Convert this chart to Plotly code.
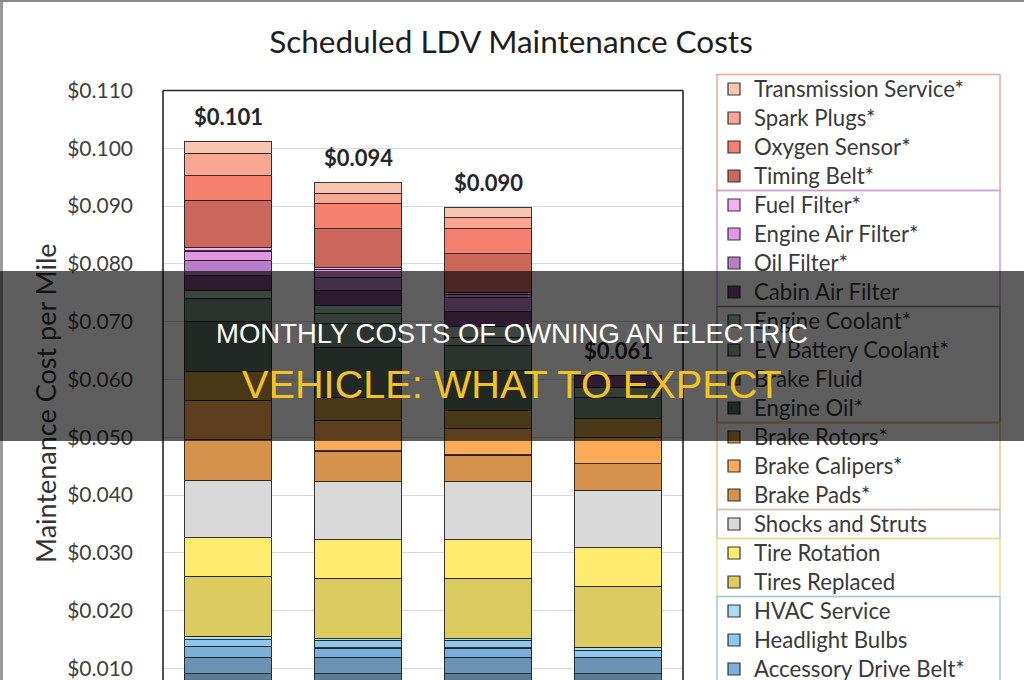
import plotly.graph_objects as go

# ---------------- data ----------------
categories = ["ICEV", "HEV", "PHEV", "BEV"]

transmission_service = [0.00208, 0.00180, 0.00173, 0.0]
spark_plugs = [0.00391, 0.00183, 0.00191, 0.0]
oxygen_sensor = [0.00427, 0.00433, 0.00432, 0.0]
timing_belt = [0.00818, 0.00675, 0.00665, 0.0]
fuel_filter = [0.00056, 0.00024, 0.00039, 0.0]
engine_air_filter = [0.00164, 0.00138, 0.00052, 0.0]
oil_filter = [0.00260, 0.00230, 0.00243, 0.0]
cabin_air_filter = [0.00259, 0.00260, 0.00259, 0.00213]
engine_coolant = [0.00133, 0.00143, 0.00185, 0.0]
ev_battery_coolant = [0.0, 0.00173, 0.00144, 0.00162]
brake_fluid = [0.00404, 0.00405, 0.00432, 0.00374]
engine_oil = [0.00865, 0.00865, 0.00692, 0.0]
brake_rotors = [0.00501, 0.00403, 0.00317, 0.00318]
brake_calipers = [0.00680, 0.00528, 0.00453, 0.00461]
brake_pads = [0.00704, 0.00522, 0.00453, 0.00461]
shocks_and_struts = [0.00992, 0.01014, 0.01014, 0.00992]
tire_rotation = [0.00669, 0.00665, 0.00665, 0.00669]
tires_replaced = [0.01038, 0.01048, 0.01048, 0.01056]
hvac_service = [0.00057, 0.00030, 0.00030, 0.00052]
headlight_bulbs = [0.00116, 0.00129, 0.00129, 0.00115]
accessory_drive_belt = [0.00185, 0.00159, 0.00159, 0.0]
wiper_blades = [0.00288, 0.00288, 0.00288, 0.00288]
battery_12v = [0.00908, 0.00908, 0.00908, 0.00908]

y_tick_values = [0.010, 0.020, 0.030, 0.040, 0.050, 0.060, 0.070, 0.080, 0.090, 0.100, 0.110]
y_tick_labels = ["$0.010", "$0.020", "$0.030", "$0.040", "$0.050", "$0.060",
                 "$0.070", "$0.080", "$0.090", "$0.100", "$0.110"]

chart_title = "Scheduled LDV Maintenance Costs"
y_title = "Maintenance Cost per Mile"
banner_line1 = "MONTHLY COSTS OF OWNING AN ELECTRIC"
banner_line2 = "VEHICLE: WHAT TO EXPECT"

# stack order: bottom -> top  (name, values, colour, shown in legend)
stack = [
    ("12V Battery", battery_12v, "#5B7E98", False),
    ("Wiper Blades", wiper_blades, "#6A93B3", False),
    ("Accessory Drive Belt*", accessory_drive_belt, "#7BAFD8", True),
    ("Headlight Bulbs", headlight_bulbs, "#8CC8EE", True),
    ("HVAC Service", hvac_service, "#A9DBF3", True),
    ("Tires Replaced", tires_replaced, "#DCCB5E", True),
    ("Tire Rotation", tire_rotation, "#FFEB6E", True),
    ("Shocks and Struts", shocks_and_struts, "#D9D9D9", True),
    ("Brake Pads*", brake_pads, "#D6924C", True),
    ("Brake Calipers*", brake_calipers, "#FBAA58", True),
    ("Brake Rotors*", brake_rotors, "#C99A45", True),
    ("Engine Oil*", engine_oil, "#5E7064", True),
    ("Brake Fluid", brake_fluid, "#768C7C", True),
    ("EV Battery Coolant*", ev_battery_coolant, "#90A892", True),
    ("Engine Coolant*", engine_coolant, "#A7BDA9", True),
    ("Cabin Air Filter", cabin_air_filter, "#7D4A80", True),
    ("Oil Filter*", oil_filter, "#B97CC6", True),
    ("Engine Air Filter*", engine_air_filter, "#E294E6", True),
    ("Fuel Filter*", fuel_filter, "#F2B0F2", True),
    ("Timing Belt*", timing_belt, "#CC675C", True),
    ("Oxygen Sensor*", oxygen_sensor, "#F6806F", True),
    ("Spark Plugs*", spark_plugs, "#F9A793", True),
    ("Transmission Service*", transmission_service, "#F9C4B0", True),
]

# ---------------- layout geometry (pixels) ----------------
W, H = 1024, 680
PL, PR = 163, 683          # plot area left/right
PT, PB = 0, 680            # plot area top/bottom
Y_RANGE = [0.0080, 0.12566]


def px_x(px):
    return (px - PL) / (PR - PL)


def py_y(py):
    return (PB - py) / (PB - PT)


fig = go.Figure()
for name, vals, col, show in stack:
    fig.add_trace(go.Bar(
        x=categories, y=vals, name=name, showlegend=show,
        legendgroup=name,
        marker=dict(color=col, line=dict(color="rgba(35,35,35,0.9)", width=1.2)),
    ))
    # legend row pitch follows legend.font.size; the label itself is drawn a bit larger
    fig.data[-1].name = '<span style="font-size:22.2px">%s</span>' % name

totals = [sum(s[1][i] for s in stack) for i in range(len(categories))]

annotations = []
for cat, tot in zip(categories, totals):
    annotations.append(dict(
        x=cat, y=tot, xref="x", yref="y", yshift=25, showarrow=False,
        text="<b>$%.3f</b>" % tot,
        font=dict(family="Lato", size=22, color="#262626"),
        xanchor="center", yanchor="middle"))

# y-axis title
annotations.append(dict(
    xref="paper", yref="paper", x=px_x(45), y=py_y(403), xanchor="center", yanchor="middle",
    text=y_title, textangle=-90, showarrow=False,
    font=dict(family="Lato", size=27, color="#333333")))

# dark banner over the picture
annotations.append(dict(
    xref="paper", yref="paper", x=px_x(512), y=py_y(356), xanchor="center", yanchor="middle",
    text=" ", showarrow=False, width=1070, height=170, borderpad=0, borderwidth=0,
    bgcolor="rgba(0,0,0,0.63)"))
annotations.append(dict(
    xref="paper", yref="paper", x=px_x(512), y=py_y(333), xanchor="center", yanchor="middle",
    text=banner_line1, showarrow=False,
    font=dict(family="Liberation Sans, Arial", size=27.5, color="#FFFFFF")))
annotations.append(dict(
    xref="paper", yref="paper", x=px_x(511.5), y=py_y(383.5), xanchor="center", yanchor="middle",
    text=banner_line2, showarrow=False,
    font=dict(family="Liberation Sans, Arial", size=39.7, color="#F5C320")))

# ---------------- shapes: plot frame, legend group boxes, picture border ----------------
shapes = []
frame = dict(color="#262626", width=1.6)
shapes.append(dict(type="line", xref="paper", yref="y", x0=0, x1=1, y0=0.110, y1=0.110, line=frame))
shapes.append(dict(type="line", xref="paper", yref="y", x0=0, x1=0, y0=0.0, y1=0.110, line=frame))
shapes.append(dict(type="line", xref="paper", yref="y", x0=1, x1=1, y0=0.0, y1=0.110, line=frame))

LEG_TOP = 74.5
PITCH = 29
legend_groups = [(4, "#EFA49A"), (4, "#C9A0D8"), (4, "#8E9E90"), (3, "#F6C07F"),
                 (1, "#C4C4C4"), (2, "#EEDF85"), (5, "#9EC7E3")]
k = 0
for n, col in legend_groups:
    y0 = LEG_TOP + k * PITCH
    y1 = LEG_TOP + (k + n) * PITCH
    shapes.append(dict(type="rect", xref="paper", yref="paper",
                       x0=px_x(717), x1=px_x(1000), y0=py_y(y1), y1=py_y(y0),
                       line=dict(color=col, width=1.5), fillcolor="rgba(0,0,0,0)"))
    k += n

shapes.append(dict(type="line", xref="paper", yref="paper", x0=px_x(1.5), x1=px_x(1.5),
                   y0=py_y(680), y1=py_y(0), line=dict(color="#9A9A9A", width=3)))
shapes.append(dict(type="line", xref="paper", yref="paper", x0=px_x(0), x1=px_x(1024),
                   y0=py_y(1), y1=py_y(1), line=dict(color="#8A8A8A", width=2)))

fig.update_layout(
    template="none",
    width=W, height=H,
    margin=dict(l=PL, r=W - PR, t=PT, b=H - PB, autoexpand=False),
    paper_bgcolor="white", plot_bgcolor="white",
    barmode="stack", bargap=0.33,
    font=dict(family="Lato", color="#404040"),
    title=dict(text=chart_title, x=511 / W, xref="container", xanchor="center",
               y=1 - 42 / H, yref="container", yanchor="middle",
               font=dict(family="Lato", size=31.5, color="#1E1E1E")),
    legend=dict(traceorder="reversed", x=px_x(714), xanchor="left", y=py_y(69.5), yanchor="top",
                bgcolor="rgba(0,0,0,0)", borderwidth=0,
                font=dict(family="Lato", size=20, color="#3A3A3A")),
    xaxis=dict(showticklabels=False, showgrid=False, zeroline=False, showline=False, ticks=""),
    yaxis=dict(range=Y_RANGE, tickvals=y_tick_values, ticktext=y_tick_labels,
               showgrid=True, gridcolor="#D9D9D9", gridwidth=1, zeroline=False, showline=False,
               ticks="", ticklabelstandoff=29,
               tickfont=dict(family="Lato", size=21, color="#404040")),
    shapes=shapes,
    annotations=annotations,
)

fig.write_html("out.html")
